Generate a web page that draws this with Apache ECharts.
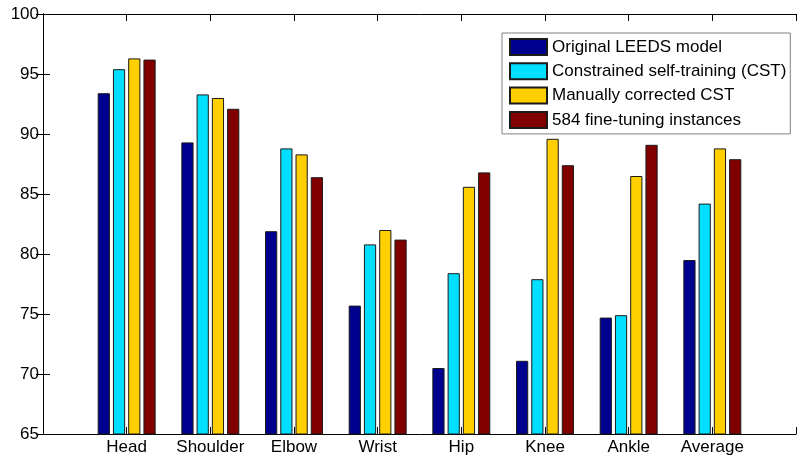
<!DOCTYPE html>
<html>
<head>
<meta charset="utf-8">
<script src="https://cdn.jsdelivr.net/npm/echarts@6/dist/echarts.min.js"></script>
<style>
  html, body { margin: 0; padding: 0; background: #fff; }
  #chart { width: 799px; height: 457px; }
</style>
</head>
<body>
<div id="chart"></div>
<script>
// Body-part categories along the x axis
const categories = ['Head', 'Shoulder', 'Elbow', 'Wrist', 'Hip', 'Knee', 'Ankle', 'Average'];

// Accuracy per method (%)
const originalLeeds = [93.4, 89.3, 81.9, 75.7, 70.5, 71.1, 74.7, 79.5];
const constrainedCST = [95.4, 93.3, 88.8, 80.8, 78.4, 77.9, 74.9, 84.2];
const manualCST = [96.3, 93.0, 88.3, 82.0, 85.6, 89.6, 86.5, 88.8];
const fineTuning584 = [96.2, 92.1, 86.4, 81.2, 86.8, 87.4, 89.1, 87.9];

const seriesNames = [
  'Original LEEDS model',
  'Constrained self-training (CST)',
  'Manually corrected CST',
  '584 fine-tuning instances'
];
const seriesValues = [originalLeeds, constrainedCST, manualCST, fineTuning584];
const seriesColors = ['#00008f', '#00dfff', '#ffcf00', '#800000'];

// Y axis ticks
const yMin = 65, yMax = 100, yStep = 5;

const FONT = '"Liberation Sans", Arial, Helvetica, sans-serif';

const chart = echarts.init(document.getElementById('chart'), null, { renderer: 'canvas' });

// categories sit at positions 1..N on a 0..N+1 value scale
const xMax = categories.length + 1;

const axisLineStyle = { show: true, lineStyle: { color: '#000', width: 1 } };
const tickStyle = { show: true, inside: true, length: 7, lineStyle: { color: '#000', width: 1 } };

const series = seriesNames.map((name, s) => ({
  name,
  type: 'bar',
  xAxisIndex: 0,
  yAxisIndex: 0,
  barWidth: 12.2,
  barGap: '25%',
  itemStyle: { color: seriesColors[s], borderColor: '#1a1a1a', borderWidth: 1 },
  data: seriesValues[s].map((v, i) => [i + 1, v])
}));

chart.setOption({
  animation: false,
  backgroundColor: '#fff',
  textStyle: { fontFamily: FONT },
  grid: { left: 43, top: 14, right: -5, bottom: 23, containLabel: false },
  legend: {
    data: seriesNames,
    orient: 'vertical',
    left: 502,
    top: 33,
    padding: [5, 4, 5, 7],
    itemWidth: 37,
    itemHeight: 16,
    itemGap: 6.3,
    backgroundColor: '#fff',
    borderColor: '#808080',
    borderWidth: 1,
    borderRadius: 0,
    icon: 'rect',
    textStyle: { fontFamily: FONT, fontSize: 17, color: '#000', lineHeight: 16 }
  },
  xAxis: [
    {
      type: 'value',
      position: 'bottom',
      min: 0,
      max: xMax,
      interval: 1,
      axisLine: axisLineStyle,
      axisTick: tickStyle,
      splitLine: { show: false },
      axisLabel: {
        show: true,
        margin: 5,
        fontFamily: FONT,
        fontSize: 17,
        color: '#000',
        formatter: v => categories[v - 1] || ''
      }
    },
    {
      type: 'value',
      position: 'top',
      min: 0,
      max: xMax,
      interval: 1,
      axisLine: axisLineStyle,
      axisTick: tickStyle,
      splitLine: { show: false },
      axisLabel: { show: false }
    }
  ],
  yAxis: [
    {
      type: 'value',
      position: 'left',
      min: yMin,
      max: yMax,
      interval: yStep,
      axisLine: axisLineStyle,
      axisTick: tickStyle,
      splitLine: { show: false },
      axisLabel: { margin: 4, fontFamily: FONT, fontSize: 17, color: '#000' }
    },
    {
      type: 'value',
      position: 'right',
      min: yMin,
      max: yMax,
      interval: yStep,
      axisLine: axisLineStyle,
      axisTick: tickStyle,
      splitLine: { show: false },
      axisLabel: { show: false }
    }
  ],
  series
});
</script>
</body>
</html>
